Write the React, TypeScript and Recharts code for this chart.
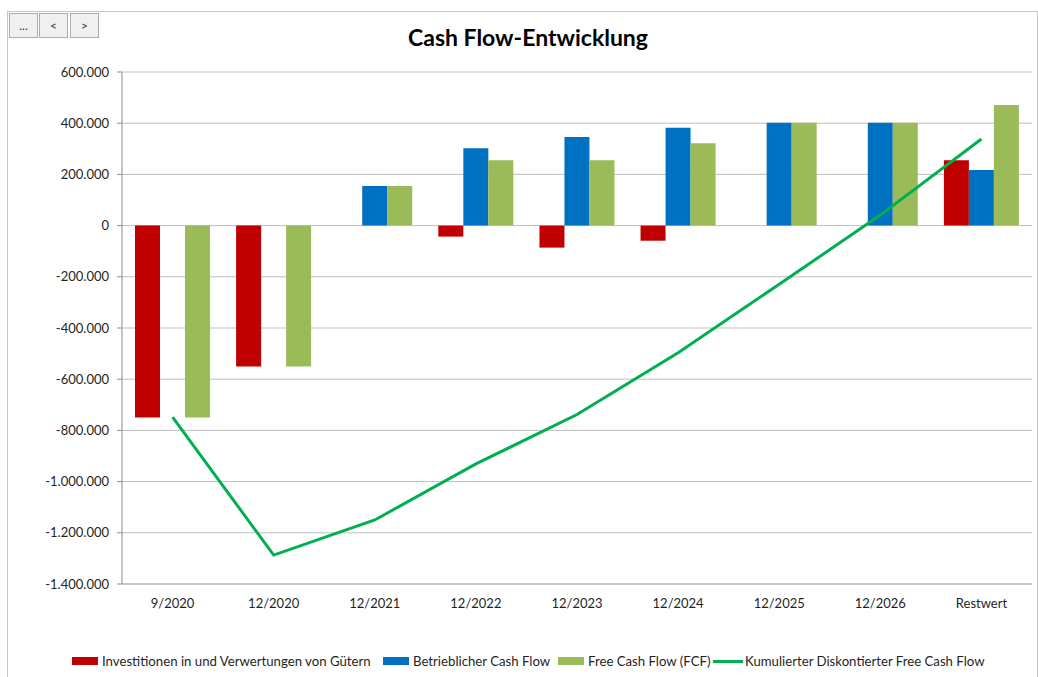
import React from "react";
import {
  ComposedChart,
  Bar,
  Line,
  XAxis,
  YAxis,
  CartesianGrid,
} from "recharts";

const categories = ["9/2020", "12/2020", "12/2021", "12/2022", "12/2023", "12/2024", "12/2025", "12/2026", "Restwert"];
const investitionen = [-750000, -550000, null, -43000, -86000, -59000, null, null, 255000];
const betrieblich = [null, null, 155000, 302000, 346000, 382000, 402000, 402000, 217000];
const freeCashFlow = [-750000, -550000, 155000, 255000, 255000, 322000, 402000, 402000, 471000];
const kumuliert = [-748000, -1287000, -1150000, -931000, -738000, -497000, -229000, 41000, 338000];
const yTicks = [-1400000, -1200000, -1000000, -800000, -600000, -400000, -200000, 0, 200000, 400000, 600000];

const RED = "#C00000";
const BLUE = "#0070C0";
const LIGHT_GREEN = "#9BBB59";
const LINE_GREEN = "#00B050";
const FONT = "Lato, 'Open Sans', sans-serif";

const data = categories.map((name, i) => ({
  name,
  inv: investitionen[i],
  bcf: betrieblich[i],
  fcf: freeCashFlow[i],
  kum: kumuliert[i],
}));

const fmt = (v: number) => v.toLocaleString("de-DE");

export default function App() {
  return (
    <div style={styles.page}>
      <div style={styles.frame} />
      <div style={{ ...styles.btn, left: 9 }}>...</div>
      <div style={{ ...styles.btn, left: 39 }}>&lt;</div>
      <div style={{ ...styles.btn, left: 70 }}>&gt;</div>

      <div style={styles.title}>Cash Flow-Entwicklung</div>

      <div style={{ position: "absolute", left: 0, top: 0 }}>
        <ComposedChart
          width={1038}
          height={677}
          data={data}
          margin={{ top: 72, right: 6, left: 12, bottom: 63 }}
          barCategoryGap={13}
          barGap={0}
        >
          <CartesianGrid stroke="#BFBFBF" vertical={false} horizontalValues={yTicks.filter((t) => t !== -1400000)} />
          <XAxis
            dataKey="name"
            height={30}
            tickLine={false}
            tickSize={0}
            tickMargin={15}
            axisLine={{ stroke: "#8C8C8C" }}
            tick={{ fill: "#1F1F1F", fontSize: 13, fontFamily: FONT }}
            interval={0}
          />
          <YAxis
            width={110}
            domain={[-1400000, 600000]}
            ticks={yTicks}
            tickFormatter={fmt}
            tickSize={5}
            tickMargin={8}
            axisLine={{ stroke: "#8C8C8C" }}
            tickLine={{ stroke: "#8C8C8C" }}
            tick={{ fill: "#1F1F1F", fontSize: 13, fontFamily: FONT }}
            interval={0}
          />
          <Bar dataKey="inv" fill={RED} isAnimationActive={false} />
          <Bar dataKey="bcf" fill={BLUE} isAnimationActive={false} />
          <Bar dataKey="fcf" fill={LIGHT_GREEN} isAnimationActive={false} />
          <Line
            dataKey="kum"
            type="linear"
            stroke={LINE_GREEN}
            strokeWidth={3}
            dot={false}
            activeDot={false}
            isAnimationActive={false}
          />
        </ComposedChart>
      </div>

      <LegendItem left={72} color={RED} label="Investitionen in und Verwertungen von Gütern" />
      <LegendItem left={383} color={BLUE} label="Betrieblicher Cash Flow" />
      <LegendItem left={558} color={LIGHT_GREEN} label="Free Cash Flow (FCF)" />
      <LegendItem left={713} color={LINE_GREEN} label="Kumulierter Diskontierter Free Cash Flow" line />
    </div>
  );
}

function LegendItem({ left, color, label, line }: { left: number; color: string; label: string; line?: boolean }) {
  return (
    <div style={{ ...styles.legendItem, left, gap: line ? 2 : 4 }}>
      {line
        ? <div style={{ width: 30, height: 3, background: color }} />
        : <div style={{ width: 26, height: 8, background: color }} />}
      <span>{label}</span>
    </div>
  );
}

const styles: Record<string, React.CSSProperties> = {
  page: { position: "absolute", left: 0, top: 0, width: 1038, height: 677, overflow: "hidden", background: "#fff" },
  frame: { position: "absolute", left: 7, top: 11, width: 1029, height: 700, border: "1px solid #C8C8C8" },
  btn: {
    position: "absolute",
    top: 13,
    width: 29,
    height: 25,
    background: "#F0F0F0",
    border: "1px solid #ADADAD",
    fontFamily: FONT,
    fontSize: 12,
    color: "#333",
    display: "flex",
    alignItems: "center",
    justifyContent: "center",
    boxSizing: "border-box",
  },
  title: {
    position: "absolute",
    left: 0,
    width: 1056,
    top: 23,
    textAlign: "center",
    fontFamily: FONT,
    fontWeight: 700,
    fontSize: 23,
    color: "#000",
  },
  legendItem: {
    position: "absolute",
    top: 653,
    display: "flex",
    alignItems: "center",
    fontFamily: FONT,
    fontSize: 13.2,
    color: "#1F1F1F",
    whiteSpace: "nowrap",
  },
};
